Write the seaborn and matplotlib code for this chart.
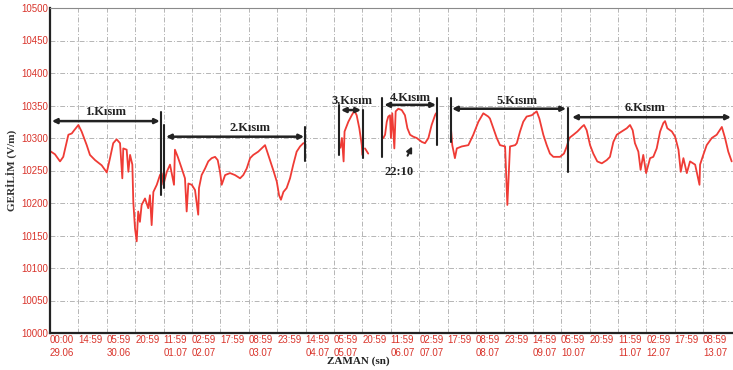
import numpy as np
import pandas as pd
import matplotlib
matplotlib.use("Agg")
import matplotlib.pyplot as plt
import matplotlib.transforms as mtransforms
import seaborn as sns

# ---- data (hours since 29.06 00:00, electric field V/m) ----
seg1_h = [0, 2.6, 5.3, 7.0, 9.7, 11.5, 12.8, 15.0, 16.7, 19.4, 21.1, 23.8, 27.3, 30.0,
          31.7, 33.4, 35.2, 37.0, 38.2, 38.7, 40.5, 41.4, 42.3, 43.5, 44.0, 44.9, 45.8,
          46.6, 47.5, 48.4, 50.2, 51.9, 52.8, 53.7, 54.6, 56.4, 58.1, 59.0, 59.9, 61.7,
          63.4, 65.5, 66.0, 67.5, 69.6, 71.3, 72.2, 73.1, 74.9, 76.6, 78.3, 78.7, 80.1,
          81.9, 83.6, 85.4, 87.2, 88.6, 89.8, 90.7, 92.5, 95.1, 97.7, 100.4, 102.1, 103.9,
          105.7, 107.4, 110.0, 111.8, 113.6, 116.2, 118.0, 119.8, 121.0, 122.0, 123.3,
          125.0, 126.8, 128.5, 130.3, 132.1, 133.8, 134.7]
seg1_v = [10280, 10275, 10264, 10271, 10305, 10307, 10312, 10320, 10310, 10289, 10274,
          10266, 10258, 10247, 10269, 10292, 10298, 10292, 10238, 10284, 10282, 10248,
          10274, 10259, 10202, 10161, 10141, 10187, 10171, 10197, 10207, 10192, 10212,
          10166, 10217, 10228, 10243, 10246, 10228, 10248, 10259, 10228, 10282, 10271,
          10253, 10238, 10187, 10230, 10228, 10220, 10182, 10223, 10243, 10253, 10264,
          10269, 10271, 10266, 10248, 10228, 10243, 10246, 10243, 10238, 10243, 10253,
          10269, 10274, 10279, 10284, 10289, 10266, 10250, 10233, 10212, 10205, 10217,
          10223, 10238, 10259, 10279, 10287, 10292, 10292]

seg2_h = [153.4, 154.2, 155.1, 155.6, 157.6, 159.4, 160.8, 162.0, 163.4, 164.7, 165.0]
seg2_v = [10285, 10300, 10264, 10310, 10325, 10335, 10342, 10335, 10315, 10289, 10274]

seg3_h = [166.4, 168.1]
seg3_v = [10284, 10276]

seg4_h = [176.1, 177.0, 177.9, 178.7, 179.6, 180.1, 180.8, 181.9, 182.6, 184.0, 185.8,
          187.5, 188.8, 190.2, 191.9, 193.7, 196.4, 198.1, 199.9, 201.6, 203.4, 203.9]
seg4_v = [10300, 10305, 10325, 10333, 10335, 10300, 10338, 10284, 10341, 10345, 10343,
          10335, 10315, 10305, 10302, 10300, 10294, 10292, 10300, 10320, 10335, 10338]

seg5_h = [211.8, 212.5, 213.9, 214.9, 217.5, 221.0, 223.6, 226.3, 228.9, 231.5, 232.4,
          234.2, 236.0, 237.7, 240.4, 241.6, 243.0, 245.7, 246.6, 248.3, 250.0, 251.8,
          254.5, 257.1, 258.5, 260.6, 262.4, 264.1, 265.9, 267.7, 269.4, 271.5, 273.0,
          274.3, 276.5, 278.6, 280.9, 282.1, 283.5, 285.3, 287.0, 289.1, 291.5, 294.1,
          295.8, 297.6, 299.4, 302.0, 304.7, 306.4, 307.8, 309.0, 310.8, 312.0, 313.4,
          314.9, 317.0, 318.7, 320.5, 322.3, 324.0, 324.9, 326.1, 328.5, 330.2, 332.0,
          333.2, 334.6, 336.4, 338.1, 340.8, 343.1, 343.4, 345.1, 346.9, 349.6, 352.2,
          354.9, 356.6, 358.3, 360.1]
seg5_v = [10315, 10289, 10269, 10284, 10287, 10289, 10305, 10325, 10338, 10333, 10330,
          10315, 10300, 10289, 10287, 10197, 10287, 10289, 10292, 10310, 10325, 10333,
          10335, 10341, 10330, 10305, 10289, 10276, 10271, 10271, 10271, 10276, 10287,
          10300, 10305, 10310, 10317, 10320, 10312, 10289, 10276, 10264, 10261, 10266,
          10271, 10294, 10305, 10310, 10315, 10320, 10312, 10292, 10279, 10251, 10274,
          10246, 10269, 10271, 10284, 10310, 10323, 10326, 10315, 10310, 10302, 10282,
          10248, 10269, 10246, 10264, 10259, 10228, 10259, 10274, 10289, 10300, 10305,
          10317, 10300, 10279, 10264]

time_labels = ["00:00", "14:59", "05:59", "20:59", "11:59", "02:59", "17:59", "08:59",
               "23:59", "14:59", "05:59", "20:59", "11:59", "02:59", "17:59", "08:59",
               "23:59", "14:59", "05:59", "20:59", "11:59", "02:59", "17:59", "08:59"]
date_labels = ["29.06", "", "30.06", "", "01.07", "02.07", "", "03.07", "", "04.07",
               "05.07", "", "06.07", "07.07", "", "08.07", "", "09.07", "10.07", "",
               "11.07", "12.07", "", "13.07"]

section_names = ["1.Kısım", "2.Kısım", "3.Kısım", "4.Kısım", "5.Kısım", "6.Kısım"]
section_start = [1.0, 61.3, 153.7, 176.6, 212.4, 275.8]
section_end = [58.0, 134.2, 164.3, 203.9, 272.6, 359.7]
section_level = [10326, 10302, 10343, 10351, 10345, 10332]
section_label_x = [29.6, 105.9, 159.6, 190.2, 246.7, 314.3]
section_label_y = [10340, 10315, 10357, 10361, 10357, 10346]

# boundary bars: (hour, low, high)
bar_h = [58.6, 60.4, 134.7, 152.7, 165.2, 175.5, 204.3, 211.8, 273.5]
bar_lo = [10212, 10223, 10264, 10274, 10269, 10271, 10289, 10294, 10248]
bar_hi = [10340, 10320, 10317, 10351, 10343, 10361, 10361, 10361, 10346]

# ---- build table ----
frames = []
for i, (h, v) in enumerate([(seg1_h, seg1_v), (seg2_h, seg2_v), (seg3_h, seg3_v),
                            (seg4_h, seg4_v), (seg5_h, seg5_v)]):
    frames.append(pd.DataFrame({"hour": h, "value": v, "segment": i}))
df = pd.concat(frames, ignore_index=True)

sns.set_style("white")
plt.rcParams["font.family"] = ["Liberation Sans", "DejaVu Sans"]

fig = plt.figure(figsize=(7.33, 3.70), dpi=100)
ax = fig.add_axes([50 / 733, 37 / 370, 683 / 733, 325 / 370])

red = "#ef3b35"
sns.lineplot(data=df, x="hour", y="value", units="segment", estimator=None,
             sort=False, color=red, linewidth=1.3, ax=ax, legend=False)

ax.set_xlim(0, 360.8)
ax.set_ylim(10000, 10500)

xt = np.arange(0, 24) * 15
ax.set_xticks(xt)
labels = ax.set_xticklabels([f"{t}\n{d}" for t, d in zip(time_labels, date_labels)],
                            fontsize=7, color="#d9342b", linespacing=1.35)
shift = mtransforms.ScaledTranslation(2 / 100, 0, fig.dpi_scale_trans)
for lab in labels:
    lab.set_horizontalalignment("left")
    lab.set_multialignment("left")
    lab.set_transform(lab.get_transform() + shift)
ax.set_yticks(np.arange(10000, 10501, 50))
ax.set_yticklabels([str(v) for v in range(10000, 10501, 50)], fontsize=7,
                   color="#d9342b")
ax.tick_params(axis="both", length=0, pad=1.5)

ax.grid(True, color="#b5b5b5", linestyle=(0, (5, 2, 1, 2)), linewidth=0.7)
for s in ["left", "bottom"]:
    ax.spines[s].set_color("#222222")
    ax.spines[s].set_linewidth(1.6)
ax.spines["top"].set_color("#8a8a8a")
ax.spines["top"].set_linewidth(0.8)
ax.spines["right"].set_visible(False)

ax.set_xlabel("ZAMAN (sn)", fontsize=8, fontweight="bold", family="Liberation Serif",
              color="#222222")
ax.xaxis.set_label_coords(0.451, -0.071)
ax.set_ylabel("GERİLİM (V/m)", fontsize=8, fontweight="bold", family="Liberation Serif",
              color="#333333")
ax.yaxis.set_label_coords(-0.056, 0.5)
ax.yaxis.label.set_verticalalignment("center")

# section arrows
for name, x0, x1, yl, lx, ly in zip(section_names, section_start, section_end,
                                    section_level, section_label_x, section_label_y):
    ax.annotate("", xy=(x0, yl), xytext=(x1, yl),
                arrowprops=dict(arrowstyle="<|-|>", color="#222222", lw=1.8,
                                mutation_scale=7, shrinkA=0, shrinkB=0))
    ax.text(lx, ly, name, ha="center", va="center", fontsize=9, fontweight="bold",
            family="Liberation Serif", color="#222222")

for h, lo, hi in zip(bar_h, bar_lo, bar_hi):
    ax.plot([h, h], [lo, hi], color="#222222", lw=1.5)

ax.annotate("22:10", xy=(191.3, 10287), xytext=(184.5, 10247),
            ha="center", va="center", fontsize=9, fontweight="bold",
            family="Liberation Serif", color="#222222",
            arrowprops=dict(arrowstyle="-|>", color="#222222", lw=1.5,
                            mutation_scale=8, shrinkA=6, shrinkB=0))

fig.savefig("out.png", dpi=100)
